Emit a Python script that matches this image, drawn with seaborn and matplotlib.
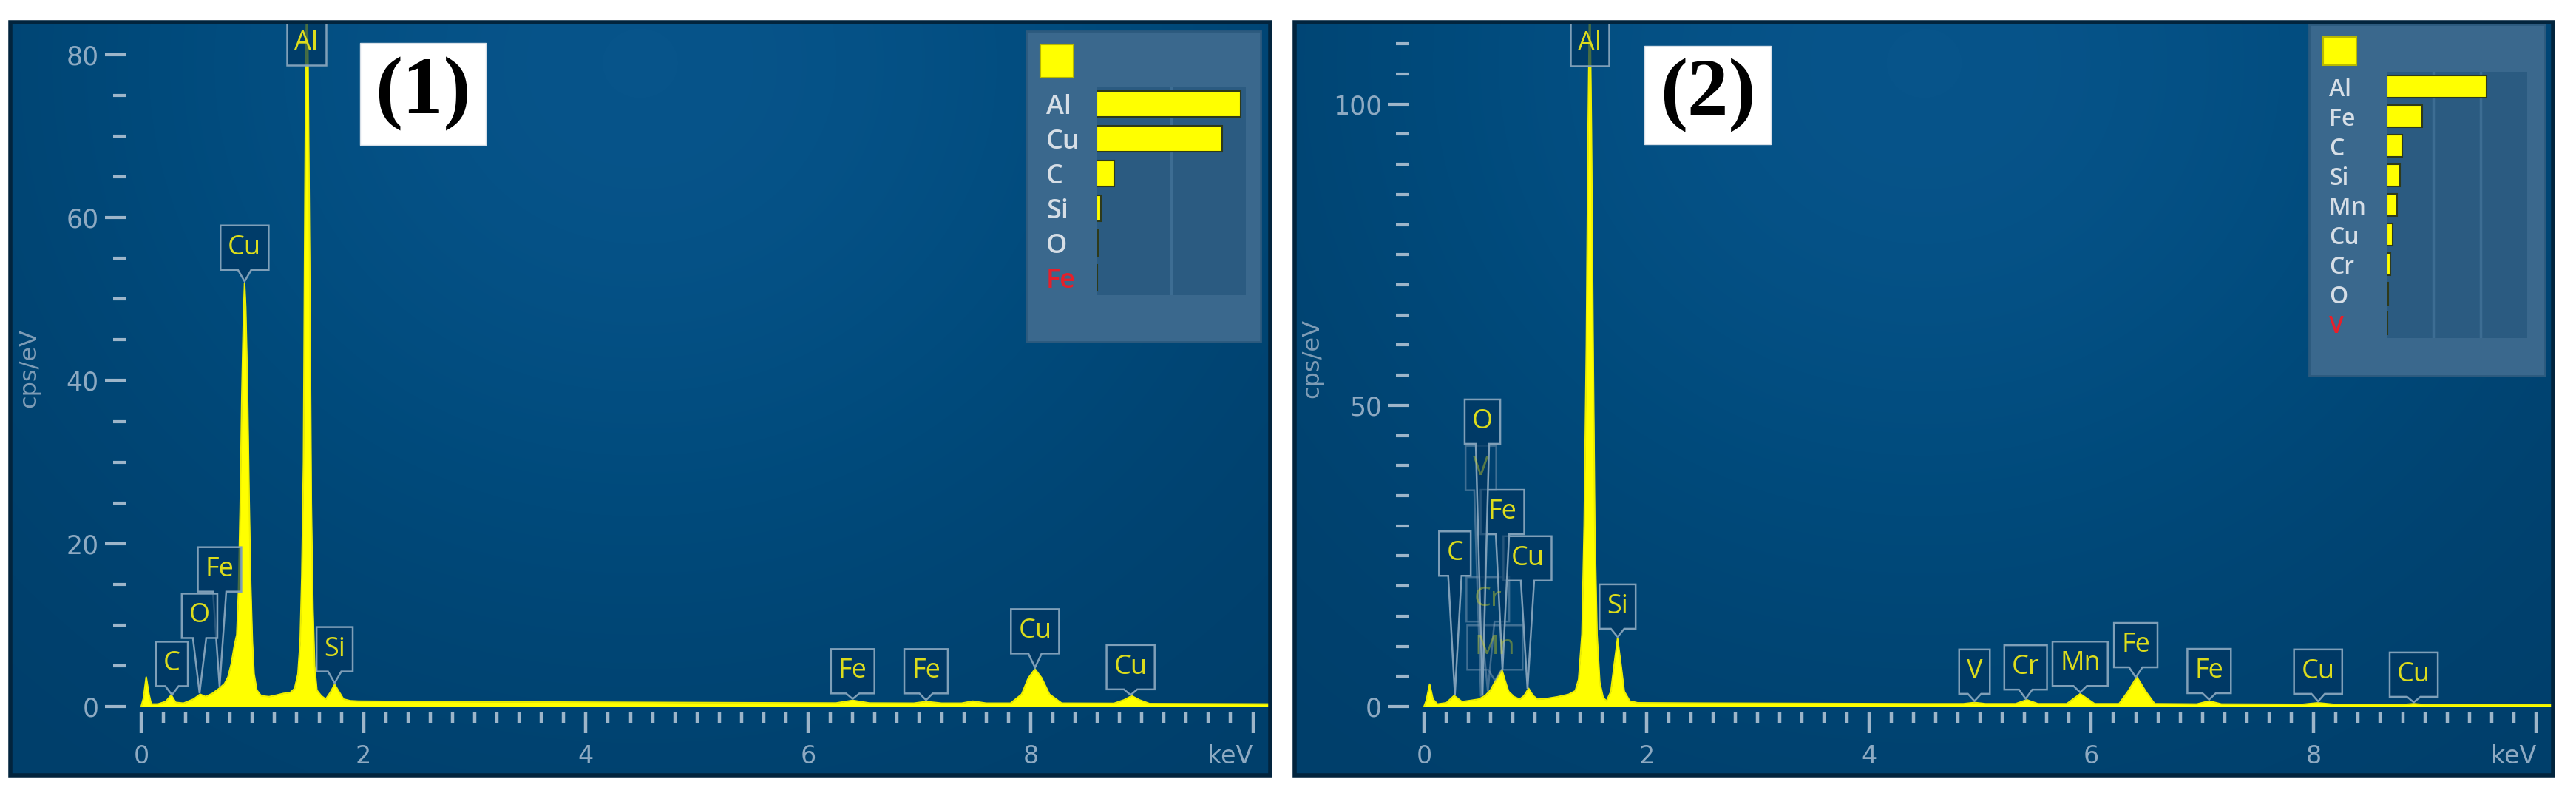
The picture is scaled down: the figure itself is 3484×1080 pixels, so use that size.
import numpy as np
import matplotlib
matplotlib.use("Agg")
import matplotlib.pyplot as plt
from matplotlib.patches import Rectangle, Polygon
from matplotlib.colors import LinearSegmentedColormap
from matplotlib.ticker import FixedLocator
import seaborn as sns

sns.set_theme(style="ticks")
plt.rcParams["font.family"] = ["Liberation Sans Narrow", "DejaVu Sans"]

W, H = 3484, 1080

# ---- spectrum (1) ----
energy_1 = [0.00, 0.02, 0.045, 0.07, 0.09, 0.15, 0.22, 0.27, 0.31, 0.38, 0.47, 0.53, 0.58, 0.64,
            0.70, 0.75, 0.78, 0.81, 0.84, 0.86, 0.875, 0.89, 0.905, 0.92, 0.93, 0.94, 0.955, 0.97,
            0.985, 1.00, 1.015, 1.04, 1.08, 1.15, 1.22, 1.28, 1.34, 1.38, 1.41, 1.43, 1.445, 1.46,
            1.47, 1.48, 1.49, 1.50, 1.515, 1.53, 1.545, 1.56, 1.58, 1.62, 1.66, 1.70, 1.74, 1.78,
            1.82, 1.88, 1.95, 2.5, 3.5, 4.5, 5.5, 6.25, 6.40, 6.55, 6.95, 7.06, 7.20, 7.38, 7.48,
            7.60, 7.82, 7.92, 7.98, 8.04, 8.10, 8.17, 8.28, 8.75, 8.84, 8.91, 8.98, 9.07, 10.2]
counts_1 = [0.0, 1.0, 3.6, 1.5, 0.3, 0.3, 0.6, 1.4, 0.5, 0.4, 0.9, 1.5, 1.2, 1.6,
            2.2, 2.8, 3.6, 5.2, 7.6, 8.8, 14, 24, 38, 48, 52, 49, 40, 26,
            15, 8, 4, 2.0, 1.3, 1.2, 1.4, 1.6, 1.7, 2.2, 4, 8, 16, 30,
            55, 78, 88, 80, 55, 25, 12, 5, 2.0, 1.3, 0.9, 1.7, 2.7, 1.8,
            0.9, 0.7, 0.65, 0.6, 0.55, 0.5, 0.45, 0.42, 0.75, 0.42, 0.4, 0.6, 0.4, 0.4, 0.65,
            0.4, 0.4, 1.5, 3.5, 4.6, 3.5, 1.5, 0.4, 0.38, 0.8, 1.3, 0.8, 0.35, 0.3]

# ---- spectrum (2) ----
energy_2 = [0.00, 0.02, 0.05, 0.08, 0.12, 0.20, 0.27, 0.34, 0.42, 0.49, 0.55, 0.60, 0.65, 0.70,
            0.73, 0.76, 0.81, 0.86, 0.90, 0.94, 0.98, 1.02, 1.10, 1.20, 1.30, 1.36, 1.39, 1.42,
            1.44, 1.46, 1.475, 1.49, 1.505, 1.52, 1.535, 1.555, 1.58, 1.61, 1.64, 1.68, 1.71,
            1.74, 1.77, 1.80, 1.85, 1.92, 2.5, 3.5, 4.5, 4.85, 4.95, 5.05, 5.32, 5.42, 5.52,
            5.78, 5.90, 6.03, 6.25, 6.33, 6.41, 6.49, 6.57, 6.95, 7.06, 7.17, 7.9, 8.04, 8.18,
            8.8, 8.9, 9.0, 10.2]
counts_2 = [0.0, 1.0, 3.7, 1.2, 0.4, 0.6, 1.8, 0.8, 1.0, 1.2, 1.8, 2.8, 4.5, 6.1,
            4.2, 2.5, 1.6, 1.2, 1.8, 3.0, 1.8, 1.2, 1.3, 1.6, 2.0, 2.6, 4.5, 12,
            30, 60, 95, 120, 95, 60, 30, 12, 4, 1.5, 0.9, 2.5, 7,
            11.3, 7, 2.5, 0.9, 0.6, 0.55, 0.5, 0.45, 0.45, 0.65, 0.45, 0.45, 1.1, 0.45,
            0.45, 2.1, 0.45, 0.45, 2.5, 4.9, 2.5, 0.45, 0.4, 0.9, 0.4, 0.35, 0.6, 0.35,
            0.3, 0.45, 0.3, 0.3]

# ---- peak labels (element, line energy keV) ----
peaks_1 = ["Al", "Cu", "Fe", "O", "C", "Si", "Fe", "Fe", "Cu", "Cu"]
lines_1 = [1.487, 0.93, 0.705, 0.525, 0.277, 1.74, 6.40, 7.06, 8.04, 8.90]
peaks_2 = ["Mn", "Cr", "V", "C", "Cu", "Fe", "O", "Al", "Si", "V", "Cr", "Mn", "Fe", "Fe", "Cu", "Cu"]
lines_2 = [0.637, 0.573, 0.511, 0.277, 0.93, 0.705, 0.525, 1.487, 1.74, 4.95, 5.41, 5.90,
           6.40, 7.06, 8.04, 8.90]
faded_2 = ["Mn", "Cr", "V"]  # first three, drawn dim

# ---- quantification insets ----
elements_1 = ["Al", "Cu", "C", "Si", "O", "Fe"]
wt_1 = [48.3, 42.1, 5.9, 1.5, 0.6, 0.3]
elements_2 = ["Al", "Fe", "C", "Si", "Mn", "Cu", "Cr", "O", "V"]
wt_2 = [53.3, 19.1, 8.3, 7.2, 5.7, 3.3, 2.0, 0.9, 0.4]

# layout (label box bottoms in cps)
box_bottom_1 = [78.7, 53.6, 14.1, 8.4, 2.5, 4.3, 1.6, 1.6, 6.5, 2.1]
box_bottom_2 = [6.1, 14.1, 35.9, 21.7, 20.9, 28.6, 43.6, 106.3, 12.9, 2.1, 2.8, 3.4, 6.5, 2.2, 2.1, 1.6]

YELLOW = "#ffff00"
TICK_C = "#9db5c9"
LAB_C = "#8eaac2"
BOX_FC = (0.0, 0.21, 0.38)
BOX_EC = "#7f9fb8"
TXT_C = "#dcdc1c"


def fig_box(x0, y0, x1, y1):
    return [x0 / W, 1 - y1 / H, (x1 - x0) / W, (y1 - y0) / H]


fig = plt.figure(figsize=(W / 100, H / 100), dpi=100, facecolor="white")
renderer = fig.canvas.get_renderer()

bg_cmap = LinearSegmentedColormap.from_list("bg", ["#003f6b", "#004a7b", "#07548a"])


def spectrum_panel(rect, energy, counts, xlim, ylim, ymajor, yminor, label_xy):
    ax = fig.add_axes(fig_box(*rect))
    ax.set_facecolor("#004a7a")
    gx, gy = np.meshgrid(np.linspace(0, 1, 200), np.linspace(0, 1, 100))
    glow = np.exp(-((gx - 0.5) ** 2) / 0.25 - ((gy - 0.95) ** 2) / 0.6)
    ax.imshow(glow, extent=[*xlim, *ylim], origin="lower", aspect="auto",
              cmap=bg_cmap, zorder=0, interpolation="bilinear")

    ax.fill_between(energy, counts, 0, color=YELLOW, lw=0, zorder=3)
    sns.lineplot(x=energy, y=counts, color="#eeee00", lw=1.5, ax=ax, zorder=3)

    ax.set_xlim(*xlim)
    ax.set_ylim(*ylim)
    sx = (rect[2] - rect[0]) / (xlim[1] - xlim[0])
    sy = (rect[3] - rect[1]) / (ylim[1] - ylim[0])

    for s in ax.spines.values():
        s.set_visible(False)
    ax.spines["bottom"].set_position(("data", -7 / sy))
    ax.spines["left"].set_position(("data", -0.14))

    ax.xaxis.set_major_locator(FixedLocator([0, 2, 4, 6, 8, 10]))
    ax.set_xticklabels(["0", "2", "4", "6", "8", "keV"])
    ax.xaxis.set_minor_locator(FixedLocator(np.arange(0, 10.01, 0.2)))
    ax.yaxis.set_major_locator(FixedLocator(ymajor))
    ax.yaxis.set_minor_locator(FixedLocator(yminor))
    ax.tick_params(axis="x", which="major", direction="out", length=21, width=3.2,
                   color=TICK_C, labelcolor=LAB_C, labelsize=24, pad=11)
    ax.tick_params(axis="x", which="minor", direction="out", length=11, width=3.2, color=TICK_C)
    ax.tick_params(axis="y", which="major", direction="out", length=20, width=3,
                   color=TICK_C, labelcolor=LAB_C, labelsize=25, pad=6)
    ax.tick_params(axis="y", which="minor", direction="out", length=12, width=3, color=TICK_C)
    ax.get_xticklabels()[-1].set_horizontalalignment("right")

    ax.set_xlabel("")
    ax.set_ylabel("cps/eV", fontsize=23, color="#7f9db6")
    ax.yaxis.set_label_coords(*label_xy)

    ax.add_patch(Rectangle((0, 0), 1, 1, transform=ax.transAxes, fill=False,
                           ec="#02243d", lw=4, clip_on=False, zorder=10))
    return ax, sx, sy


def draw_label(ax, sx, sy, energy, counts, name, line, bottom, faded):
    alpha = 0.4 if faded else 1.0
    t = ax.text(line, 0, name, fontsize=26, family=["Open Sans", "DejaVu Sans"],
                color=TXT_C, ha="center", va="center", zorder=7, alpha=alpha)
    w_px = t.get_window_extent(renderer).width + 20
    hw = w_px / 2 / sx
    h = 60 / sy
    t.set_y(bottom + h / 2)
    tip = np.interp(line, energy, counts) + 2 / sy
    pw = 9 / sx
    if tip < bottom:
        verts = [(line - hw, bottom), (line - hw, bottom + h), (line + hw, bottom + h),
                 (line + hw, bottom), (line + pw, bottom), (line, tip), (line - pw, bottom)]
    else:
        verts = [(line - hw, bottom), (line - hw, bottom + h), (line + hw, bottom + h),
                 (line + hw, bottom)]
    edge = (0.5, 0.62, 0.72, 0.5) if faded else BOX_EC
    ax.add_patch(Polygon(verts, closed=True, fc=(*BOX_FC, 0.7 * alpha),
                         ec=edge, lw=1.8, zorder=6))


def quant_inset(outer, square, area, elements, values, xmax, divs, pad, fsize):
    fig.add_artist(Rectangle((outer[0] / W, 1 - outer[3] / H), (outer[2] - outer[0]) / W,
                             (outer[3] - outer[1]) / H, transform=fig.transFigure,
                             fc="#3a688d", ec="#2c5a7e", lw=2, zorder=2))
    fig.add_artist(Rectangle((square[0] / W, 1 - square[3] / H), (square[2] - square[0]) / W,
                             (square[3] - square[1]) / H, transform=fig.transFigure,
                             fc=YELLOW, ec="#b8b800", lw=1.5, zorder=3))
    axl = fig.add_axes(fig_box(*area))
    axl.set_zorder(3)
    axl.set_facecolor("#2b5b81")
    sns.barplot(x=values, y=elements, orient="h", color=YELLOW, saturation=1,
                width=0.75, edgecolor="#2e3a1a", linewidth=1.5, ax=axl)
    axl.set_xlim(0, xmax)
    for d in divs:
        axl.axvline(d, color="#3d6d93", lw=2.5, zorder=0)
    for s in axl.spines.values():
        s.set_visible(False)
    axl.set_xticks([])
    axl.set_xlabel("")
    axl.set_ylabel("")
    axl.tick_params(axis="y", length=0, pad=pad, labelsize=fsize)
    for lab in axl.get_yticklabels():
        lab.set_horizontalalignment("left")
        lab.set_family(["Open Sans", "DejaVu Sans"])
        lab.set_fontweight("semibold")
        lab.set_color("#d6dee6")
    axl.get_yticklabels()[-1].set_color("#e5202b")


def number_box(rect, text):
    fig.add_artist(Rectangle((rect[0] / W, 1 - rect[3] / H), (rect[2] - rect[0]) / W,
                             (rect[3] - rect[1]) / H, transform=fig.transFigure,
                             fc="white", ec="#d8e0e8", lw=1, zorder=2))
    fig.text((rect[0] + rect[2]) / 2 / W, 1 - (rect[1] + rect[3]) / 2 / H, text,
             fontsize=80, fontweight="bold", family=["Liberation Serif", "DejaVu Serif"],
             color="black", ha="center", va="center", zorder=3)


# panel (1)
ax1, sx1, sy1 = spectrum_panel((14, 30, 1718, 1048), energy_1, counts_1,
                               (-1.177, 10.156), (-8.45, 84.0),
                               [0, 20, 40, 60, 80], np.arange(0, 81, 5), (0.024, 0.541))
for name, line, bottom in zip(peaks_1, lines_1, box_bottom_1):
    draw_label(ax1, sx1, sy1, energy_1, counts_1, name, line, bottom, False)

# panel (2)
ax2, sx2, sy2 = spectrum_panel((1751, 30, 3453, 1048), energy_2, counts_2,
                               (-1.164, 10.153), (-11.43, 113.6),
                               [0, 50, 100], np.arange(0, 111, 5), (0.023, 0.554))
for i, (name, line, bottom) in enumerate(zip(peaks_2, lines_2, box_bottom_2)):
    draw_label(ax2, sx2, sy2, energy_2, counts_2, name, line, bottom, i < len(faded_2))

quant_inset((1388, 42, 1705, 462), (1407, 60, 1452, 105), (1483, 117, 1685, 399),
            elements_1, wt_1, 50, [25], 49, 26)
quant_inset((3123, 33, 3442, 508), (3142, 50, 3187, 88), (3228, 97, 3418, 457),
            elements_2, wt_2, 75, [25, 50], 56, 23)

number_box((487, 58, 657, 196), "(1)")
number_box((2224, 62, 2395, 195), "(2)")

fig.savefig("out.png", dpi=100, facecolor="white")
plt.close(fig)
